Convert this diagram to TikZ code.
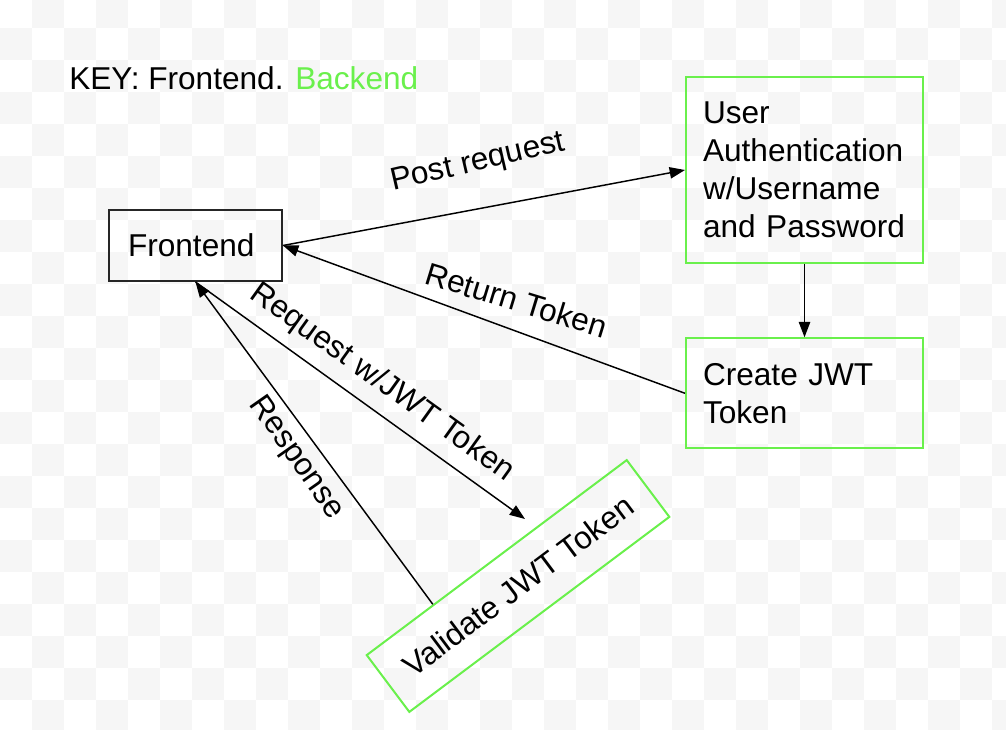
\documentclass[tikz,border=0pt]{standalone}
\usepackage{fontspec}
\setmainfont{Liberation Sans}
\usetikzlibrary{arrows.meta,calc}
\definecolor{bkgreen}{RGB}{106,240,76}
\definecolor{checker}{RGB}{246,246,246}
\begin{document}
\begin{tikzpicture}[x=0.75pt,y=-0.75pt,
  every node/.style={font=\fontsize{23.7pt}{28.5pt}\selectfont},
  fbox/.style={draw=black!85, line width=1.5pt, minimum width={173*0.75pt}, minimum height={71*0.75pt},
    inner xsep={19*0.75pt}, inner ysep=0pt, text width={135*0.75pt}, align=left},
  gbox/.style={draw=bkgreen, line width=1.5pt, align=left, inner xsep={17*0.75pt}, inner ysep=0pt,
    text width={203*0.75pt}},
  conn/.style={line width=1.1pt, -{Triangle[length=11.5pt,width=8.5pt]}},
  lbl/.style={inner sep=0pt}]
\useasboundingbox (0,0) rectangle (1006,730);
\begin{scope}
\clip (0,0) rectangle (1006,730);
\fill[white] (0,0) rectangle (1006,730);
\foreach \i in {0,...,31}{
  \foreach \j in {0,...,23}{
    \pgfmathtruncatemacro\chk{mod(\i+\j,2)}
    \ifnum\chk=1 \fill[checker] (\i*32,\j*32-4.3) rectangle ++(32,32); \fi
  }
}
\end{scope}

% key
\node[lbl, anchor=base west] (key) at (69,90) {KEY: Frontend. \textcolor{bkgreen}{Backend}};

% boxes
\node[fbox] (front) at (195.5,245.5) {Frontend};
\node[gbox, minimum height={186.6*0.75pt}] (auth) at (804.5,170) {User\\Authentication\\w/Username\\and Password};
\node[gbox, minimum height={110*0.75pt}] (create) at (804.5,393.3) {Create JWT\\Token};
\node[draw=bkgreen, line width=1.5pt, rotate=36.87, minimum width={325*0.75pt}, minimum height={71*0.75pt}, inner sep=0pt] (valid) at (518,586) {Validate JWT Token};

% connectors
\draw[conn] (front.east) -- (auth.west);
\draw[conn] (create.west) -- (front.east);
\draw[conn] (auth.south) -- (create.north);
\coordinate (reqend) at (525,519);
\draw[conn] (front.south) -- (reqend);
\coordinate (respstart) at ($(valid.north west)!0.258!(valid.north east)$);
\draw[conn] (respstart) -- (front.south);

% labels
\node[lbl, rotate=13] (lpost) at (478,163) {Post request};
\node[lbl, rotate=-17] (lret) at (516.5,300) {Return Token};
\node[lbl, rotate=-35.7] (lreq) at (382,383) {Request w/JWT Token};
\node[lbl, rotate=-55] (lresp) at (296,458) {Response};
\end{tikzpicture}
\end{document}
